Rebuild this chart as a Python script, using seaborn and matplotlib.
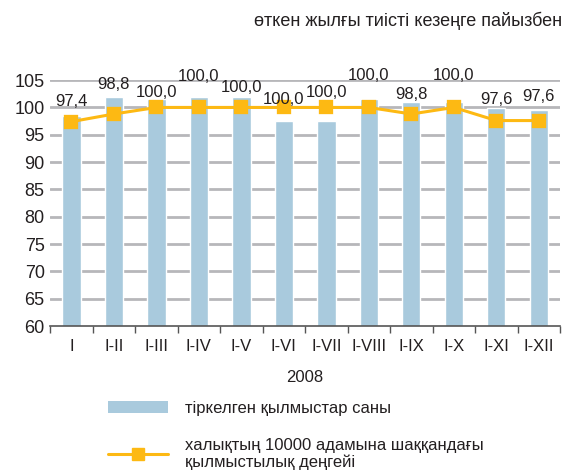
import numpy as np
import matplotlib
matplotlib.use("Agg")
import matplotlib.pyplot as plt
import seaborn as sns
from matplotlib.patches import Patch
from matplotlib.lines import Line2D

# данные
periods = ["I", "I-II", "I-III", "I-IV", "I-V", "I-VI", "I-VII", "I-VIII", "I-IX", "I-X", "I-XI", "I-XII"]
crimes_registered = [98.5, 101.9, 101.5, 101.9, 101.9, 97.5, 97.5, 101.5, 101.0, 101.0, 99.9, 99.5]
crime_level = [97.4, 98.8, 100.0, 100.0, 100.0, 100.0, 100.0, 100.0, 98.8, 100.0, 97.6, 97.6]
value_labels = ["97,4", "98,8", "100,0", "100,0", "100,0", "100,0", "100,0", "100,0", "98,8", "100,0", "97,6", "97,6"]
y_ticks = [60, 65, 70, 75, 80, 85, 90, 95, 100, 105]

# подписи разнесены по высоте, чтобы не налезали друг на друга
label_lift = [1.8, 1.5, 0.4, 3.0, 0.9, 0.7, 2.0, 3.6, 0.5, 4.1, 0.7, 1.7]

bar_color = "#a9cadd"
line_color = "#fdb913"
grid_color = "#b7b7ba"
text_color = "#231f20"

sns.set_theme(style="white")
plt.rcParams["font.family"] = ["Liberation Sans", "DejaVu Sans"]

fig = plt.figure(figsize=(5.64, 4.74), dpi=100)
ax = fig.add_axes([0.089, 0.312, 0.904, 0.519])

for t in y_ticks[1:]:
    ax.axhline(t, color=grid_color, lw=2, zorder=0)

sns.barplot(x=periods, y=crimes_registered, color=bar_color, width=0.43,
            saturation=1, ax=ax, zorder=2)
sns.pointplot(x=periods, y=crime_level, color=line_color, markers="s",
              markersize=9, linewidth=2.2, ax=ax, zorder=3)

for i, lab in enumerate(value_labels):
    top = max(crimes_registered[i], crime_level[i])
    ax.text(i, top + label_lift[i], lab, ha="center", va="baseline", fontsize=12,
            color=text_color, zorder=4, clip_on=False)

ax.set_ylim(60, 105)
ax.set_xlim(-0.5, len(periods) - 0.5)
ax.set_yticks(y_ticks)
ax.tick_params(axis="y", length=0, labelsize=13, colors=text_color, pad=4)
ax.set_xticks(range(len(periods)))
ax.set_xticklabels(periods)
ax.tick_params(axis="x", which="major", length=0, labelsize=12, colors=text_color, pad=9)
ax.set_xticks(np.arange(-0.5, len(periods), 1.0), minor=True)
ax.tick_params(axis="x", which="minor", length=5, width=1, color="#555555", bottom=True)

for s in ["top", "right", "left"]:
    ax.spines[s].set_visible(False)
ax.spines["bottom"].set_color("#555555")
ax.spines["bottom"].set_linewidth(1.2)

ax.set_xlabel("2008", fontsize=12, color=text_color, labelpad=12)
ax.set_ylabel("")

fig.text(0.996, 0.955, "өткен жылғы тиісті кезеңге пайызбен", ha="right", va="center",
         fontsize=13, color=text_color)

handles = [Patch(facecolor=bar_color, edgecolor="none"),
           Line2D([0], [0], color=line_color, lw=2.2, marker="s", markersize=9)]
labels = ["тіркелген қылмыстар саны",
          "халықтың 10000 адамына шаққандағы\nқылмыстылық деңгейі"]
leg = fig.legend(handles, labels, loc="upper left", bbox_to_anchor=(0.18, 0.168),
                 frameon=False, fontsize=12, handlelength=3.6, handletextpad=1.0,
                 labelspacing=1.3, labelcolor=text_color, borderaxespad=0)
for t in leg.get_texts():
    t.set_linespacing(1.15)

fig.savefig("out.png", dpi=100)
